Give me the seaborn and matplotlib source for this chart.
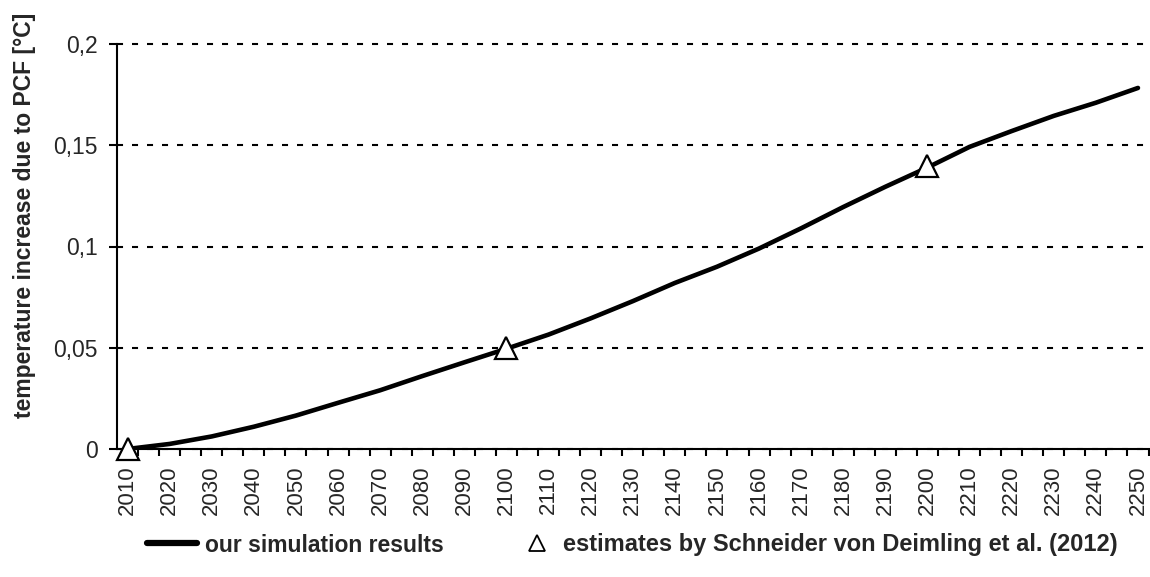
import numpy as np
import pandas as pd
import seaborn as sns
import matplotlib.pyplot as plt
from matplotlib.lines import Line2D
from matplotlib.ticker import FixedLocator

sns.set_style("white")
plt.rcParams['font.family'] = ['Liberation Sans', 'DejaVu Sans']

jaren = [2010, 2020, 2030, 2040, 2050, 2060, 2070, 2080, 2090, 2100, 2110, 2120, 2130,
         2140, 2150, 2160, 2170, 2180, 2190, 2200, 2210, 2220, 2230, 2240, 2250]
simulatie = [0.0, 0.0025, 0.0062, 0.011, 0.0165, 0.0228, 0.029, 0.036, 0.0428, 0.0495,
             0.0565, 0.0645, 0.073, 0.082, 0.090, 0.099, 0.109, 0.1195, 0.1295, 0.139,
             0.1492, 0.157, 0.1645, 0.171, 0.1783]

# schattingen Schneider von Deimling et al. (2012)
schatting_jaren = [2010, 2100, 2200]
schatting = [0.0, 0.05, 0.14]

y_ticks = [0, 0.05, 0.1, 0.15, 0.2]
y_labels = ['0', '0,05', '0,1', '0,15', '0,2']

df = pd.DataFrame({'jaar': jaren, 'meting': simulatie})
df_s = pd.DataFrame({'jaar': schatting_jaren, 'meting': schatting})

fig = plt.figure(figsize=(11.5, 5.77), dpi=100)
ax = fig.add_axes([117 / 1150, 1 - 449 / 577, 1031.5 / 1150, 405 / 577])

sns.lineplot(data=df, x='jaar', y='meting', color='black', linewidth=3.3, ax=ax,
             legend=False, zorder=3)
ax.plot(df_s['jaar'], df_s['meting'], ls='none', marker='^', ms=15.5, mfc='white',
        mec='black', mew=1.6, zorder=4, clip_on=False)

ax.set_xlim(2007.5, 2252.5)
ax.set_ylim(0, 0.2)

# assen
for s in ['top', 'right']:
    ax.spines[s].set_visible(False)
for s in ['left', 'bottom']:
    ax.spines[s].set_color('black')
    ax.spines[s].set_linewidth(1.5)

ax.set_yticks(y_ticks)
ax.set_yticklabels(y_labels, fontsize=16.5)
ax.tick_params(axis='y', direction='out', length=6, width=1.5, color='black', pad=8, left=True)

ax.set_xticks(jaren)
ax.set_xticklabels([str(j) for j in jaren], rotation=90, fontsize=16)
ax.tick_params(axis='x', which='major', length=0, pad=12)
ax.xaxis.set_minor_locator(FixedLocator(np.arange(2012.5, 2252.6, 5)))
ax.tick_params(axis='x', which='minor', direction='out', length=5, width=1.5,
               color='black', bottom=True)

ax.yaxis.grid(True, color='black', linestyle=(0, (2.9, 4.3)), linewidth=1.5)
ax.xaxis.grid(False)
for gl in ax.get_ygridlines():
    gl.set_clip_on(False)

ax.set_xlabel('')
ax.set_ylabel('temperature increase due to PCF [°C]', fontsize=16.5, fontweight='bold')
ax.yaxis.set_label_coords(-0.079, 0.578)

# legenda
h1 = Line2D([], [], color='black', linewidth=4.5)
h2 = Line2D([], [], ls='none', marker='^', ms=11, mfc='white', mec='black', mew=1.3)
fig.legend([h1], ['our simulation results'], loc='center left',
           bbox_to_anchor=(126 / 1150, 1 - 545 / 577), frameon=False,
           handlelength=2.18, handletextpad=0.35, prop={'weight': 'bold', 'size': 16.5})
fig.legend([h2], ['estimates by Schneider von Deimling et al. (2012)'], loc='center left',
           bbox_to_anchor=(504 / 1150, 1 - 545 / 577), frameon=False,
           handlelength=1.0, handletextpad=0.6, prop={'weight': 'bold', 'size': 17})

fig.savefig('out.png', dpi=100)
